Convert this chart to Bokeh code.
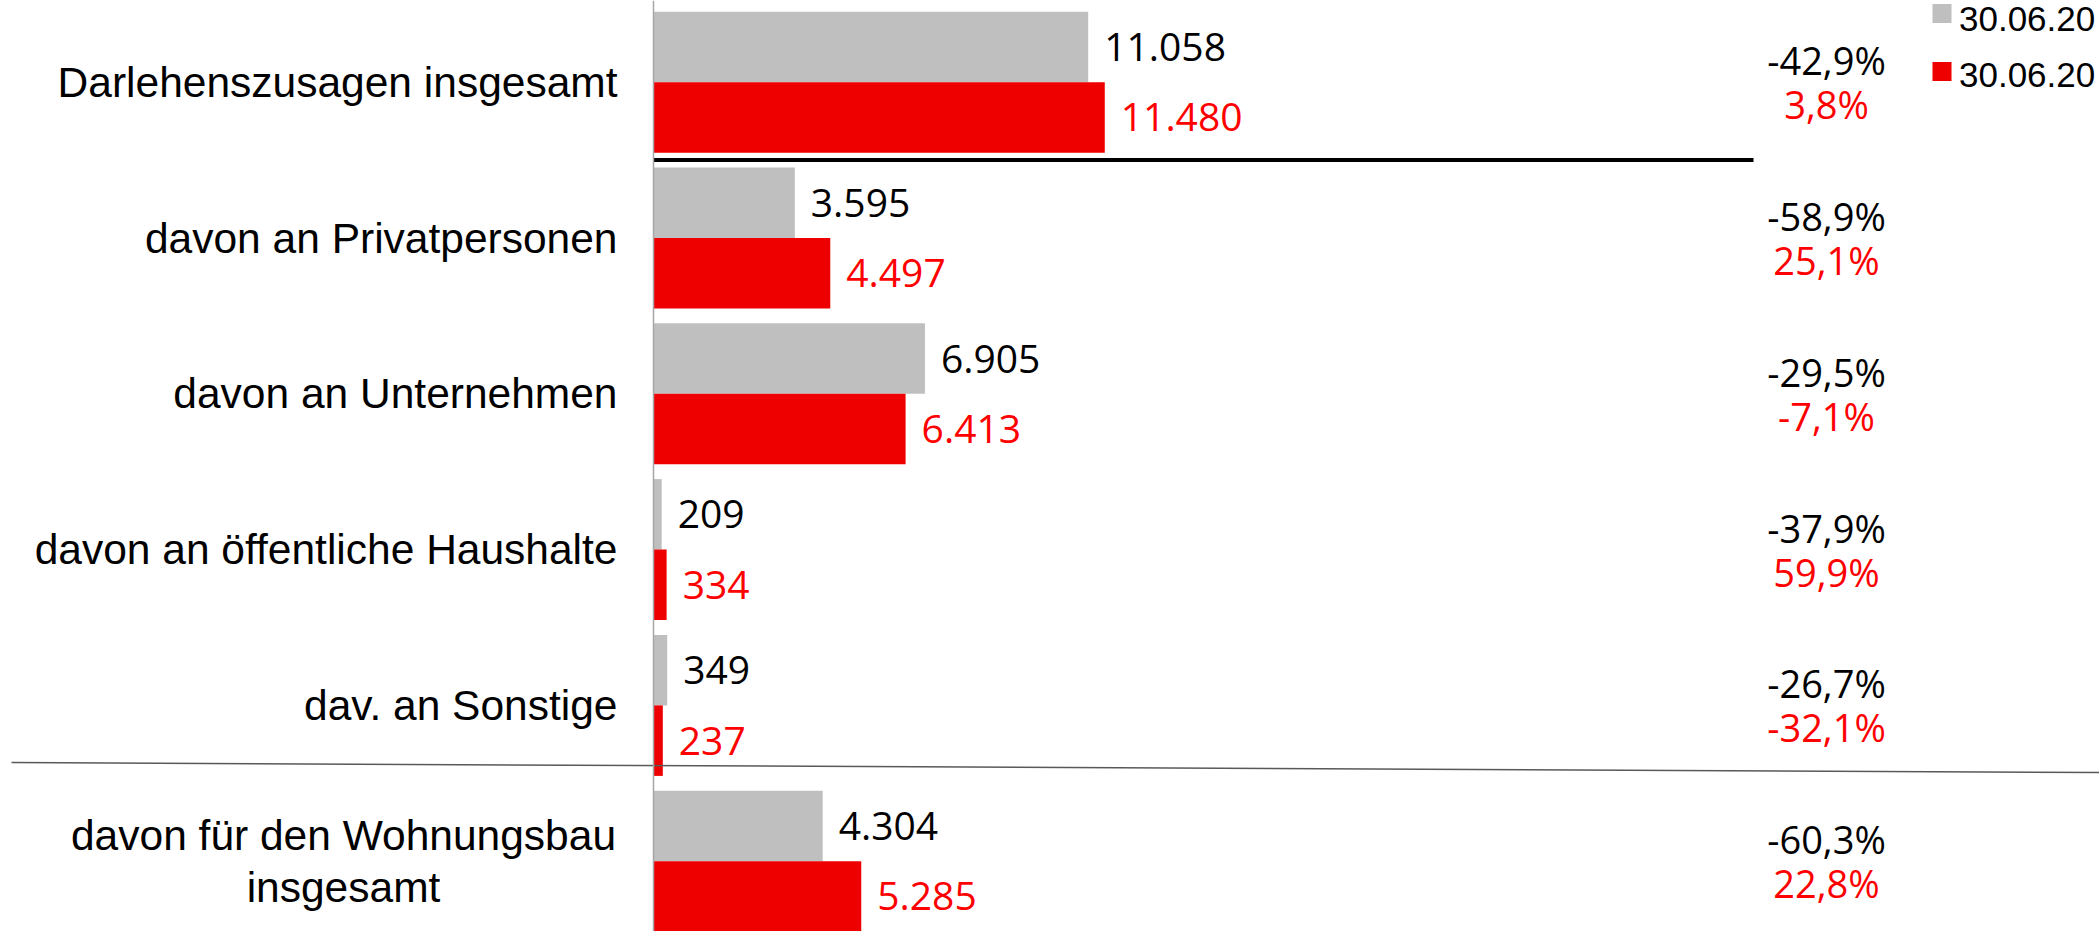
from bokeh.plotting import figure
from bokeh.models import Range1d, Span
from bokeh.core.properties import value
from bokeh.embed import file_html
from bokeh.resources import INLINE

# ---------------- data ----------------
categories = [
    "Darlehenszusagen insgesamt",
    "davon an Privatpersonen",
    "davon an Unternehmen",
    "davon an öffentliche Haushalte",
    "dav. an Sonstige",
    "davon für den Wohnungsbau\ninsgesamt",
]
prev_values = [11058, 3595, 6905, 209, 349, 4304]
curr_values = [11480, 4497, 6413, 334, 237, 5285]
prev_change = ["-42,9%", "-58,9%", "-29,5%", "-37,9%", "-26,7%", "-60,3%"]
curr_change = ["3,8%", "25,1%", "-7,1%", "59,9%", "-32,1%", "22,8%"]
legend_labels = ["30.06.20", "30.06.20"]

# ---------------- layout constants ----------------
W, H = 2099, 931
K = 0.03931          # pixels per value unit
AXIS_PX = 653        # x pixel of the value axis inside the figure
PITCH = 155.8        # pixels per category
C0 = 81.7            # y pixel of first category centre
BAR_H = 70.5 / PITCH


def xd(px):
    return (px - AXIS_PX) / K


def yd(px):
    return (px - C0) / PITCH


GREY = "#BFBFBF"
RED = "#EE0000"
RED_TXT = "#FF0000"


def fmt(v):
    return f"{v:,}".replace(",", ".")


idx = list(range(len(categories)))
grey_y = [i - BAR_H / 2 for i in idx]
red_y = [i + BAR_H / 2 for i in idx]

p = figure(
    width=W, height=H,
    x_range=Range1d(xd(0), xd(W)),
    y_range=Range1d(yd(H), yd(0)),
    toolbar_location=None, output_backend="svg",
    min_border=0, x_axis_location=None, y_axis_location=None,
)
p.outline_line_color = None
p.xgrid.grid_line_color = None
p.ygrid.grid_line_color = None
p.background_fill_color = "white"
p.border_fill_color = "white"

# value axis line
p.add_layout(Span(location=0, dimension="height", line_color="#A6A6A6", line_width=1.5))

# bars
p.hbar(y=grey_y, left=0, right=prev_values, height=BAR_H, fill_color=GREY, line_color=None)
p.hbar(y=red_y, left=0, right=curr_values, height=BAR_H, fill_color=RED, line_color=None)

# separator lines
p.segment(x0=[0], y0=[0.5], x1=[xd(1753)], y1=[0.5], line_color="black", line_width=4)
p.segment(x0=[xd(11)], y0=[yd(762)], x1=[xd(W)], y1=[yd(772)], line_color="#595959", line_width=1.5)

# value labels
p.text(x=prev_values, y=grey_y, text=[fmt(v) for v in prev_values], x_offset=16,
       text_baseline="middle", text_align="left", text_font=value("Open Sans"),
       text_font_size="39px", text_color="black")
p.text(x=curr_values, y=red_y, text=[fmt(v) for v in curr_values], x_offset=16,
       text_baseline="middle", text_align="left", text_font=value("Open Sans"),
       text_font_size="39px", text_color=RED_TXT)

# category labels
p.text(x=[0] * 5, y=idx[:5], text=categories[:5], x_offset=-36,
       text_baseline="middle", text_align="right", text_font=value("Liberation Sans"),
       text_font_size="42.5px", text_color="black")
p.text(x=[0], y=[idx[5]], text=[categories[5]], x_offset=-310,
       text_baseline="middle", text_align="center", text_font=value("Liberation Sans"),
       text_font_size="42.5px", text_color="black", text_line_height=1.1)

# change percentages
PCT_X = xd(1826)
p.text(x=[PCT_X] * len(idx), y=[i - 22 / PITCH for i in idx], text=prev_change,
       text_baseline="middle", text_align="center", text_font=value("Open Sans"),
       text_font_size="38px", text_color="black")
p.text(x=[PCT_X] * len(idx), y=[i + 22 / PITCH for i in idx], text=curr_change,
       text_baseline="middle", text_align="center", text_font=value("Open Sans"),
       text_font_size="38px", text_color=RED_TXT)

# legend (manual)
LX = xd(1941.5)
sq_y = [yd(13), yd(71)]
tx_y = [yd(18.5), yd(74.5)]
p.rect(x=[LX, LX], y=sq_y, width=19, height=19, width_units="screen", height_units="screen",
       fill_color=[GREY, RED], line_color=None)
p.text(x=[LX, LX], y=tx_y, text=legend_labels, x_offset=17, text_baseline="middle",
       text_align="left", text_font=value("Liberation Sans"), text_font_size="35px",
       text_color="black")

open("out.html", "w").write(file_html(p, INLINE))
